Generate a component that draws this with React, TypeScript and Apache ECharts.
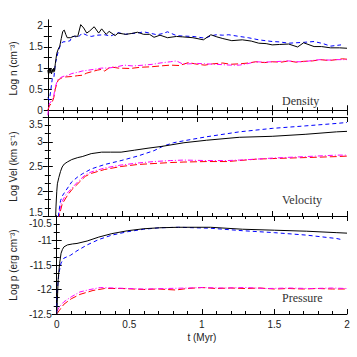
import React, { useEffect, useRef } from "react";
import * as echarts from "echarts";

type P = [number, number];

const xTicks = [0, 0.5, 1, 1.5, 2];
const densityLabels = [0, 0.5, 1, 1.5, 2];
const densityTicks = [0, 0.25, 0.5, 0.75, 1, 1.25, 1.5, 1.75, 2];
const panelNames = ["Density", "Velocity", "Pressure"];
const yNames = ["Log n (cm\u207B\u00B3)", "Log Vel (km s\u207B\u00B9)", "Log p (erg cm\u207B\u00B3)"];

const densityBlack: P[] = [[0,0.95],[0.005,0.85],[0.01,1.0],[0.015,0.88],[0.02,0.98],[0.025,0.86],[0.03,0.97],[0.035,0.9],[0.04,1.0],[0.045,0.92],[0.05,1.1],[0.06,1.35],[0.07,1.45],[0.08,1.52],[0.09,1.7],[0.1,1.87],[0.11,1.9],[0.12,1.8],[0.13,1.72],[0.15,1.72],[0.18,1.76],[0.2,1.75],[0.22,2.03],[0.24,1.95],[0.26,1.83],[0.28,1.88],[0.31,1.98],[0.34,1.83],[0.36,1.93],[0.39,1.8],[0.41,1.87],[0.45,1.77],[0.47,1.83],[0.52,1.8],[0.56,1.82],[0.6,1.85],[0.64,1.8],[0.68,1.8],[0.71,1.73],[0.75,1.78],[0.8,1.72],[0.86,1.75],[0.9,1.74],[0.97,1.72],[1.04,1.67],[1.09,1.79],[1.13,1.74],[1.17,1.7],[1.23,1.65],[1.3,1.67],[1.36,1.64],[1.41,1.59],[1.46,1.58],[1.5,1.55],[1.55,1.56],[1.61,1.57],[1.67,1.5],[1.71,1.6],[1.78,1.51],[1.83,1.51],[1.89,1.48],[1.95,1.48],[2.0,1.47]];
const densityBlue: P[] = [[0,0.3],[0.01,0.24],[0.02,0.47],[0.03,0.75],[0.04,0.75],[0.05,1.1],[0.06,1.25],[0.07,1.4],[0.085,1.55],[0.1,1.62],[0.13,1.63],[0.15,1.65],[0.16,1.75],[0.18,1.75],[0.2,1.72],[0.23,1.83],[0.26,1.78],[0.29,1.75],[0.33,1.78],[0.38,1.79],[0.42,1.76],[0.47,1.84],[0.52,1.8],[0.56,1.82],[0.6,1.83],[0.64,1.86],[0.68,1.83],[0.73,1.79],[0.77,1.82],[0.8,1.86],[0.86,1.77],[0.9,1.76],[0.97,1.75],[1.05,1.71],[1.09,1.76],[1.125,1.79],[1.17,1.78],[1.21,1.79],[1.28,1.75],[1.34,1.72],[1.41,1.67],[1.5,1.63],[1.55,1.62],[1.61,1.59],[1.66,1.6],[1.71,1.61],[1.78,1.63],[1.84,1.58],[1.89,1.52],[1.96,1.55]];
const densityRed: P[] = [[0,0.0],[0.01,0.1],[0.02,0.15],[0.03,0.2],[0.04,0.3],[0.05,0.5],[0.06,0.63],[0.07,0.72],[0.085,0.75],[0.1,0.78],[0.12,0.79],[0.16,0.8],[0.2,0.82],[0.23,0.83],[0.26,0.88],[0.29,0.91],[0.33,0.95],[0.36,0.97],[0.38,0.93],[0.42,1.03],[0.47,1.0],[0.55,0.99],[0.62,1.02],[0.69,1.03],[0.75,1.05],[0.82,1.07],[0.88,1.06],[0.94,1.13],[1.0,1.09],[1.05,1.07],[1.1,1.1],[1.17,1.12],[1.22,1.09],[1.28,1.1],[1.34,1.12],[1.39,1.15],[1.45,1.13],[1.5,1.15],[1.56,1.14],[1.61,1.17],[1.66,1.14],[1.71,1.16],[1.77,1.17],[1.82,1.2],[1.88,1.18],[1.93,1.2],[1.97,1.22],[2.0,1.21]];
const densityMagenta: P[] = [[0,-0.12],[0.005,0.05],[0.01,0.15],[0.02,0.2],[0.03,0.25],[0.04,0.35],[0.05,0.55],[0.06,0.66],[0.07,0.74],[0.085,0.77],[0.1,0.8],[0.13,0.82],[0.16,0.87],[0.2,0.9],[0.23,0.93],[0.27,0.95],[0.31,0.97],[0.36,1.0],[0.4,1.0],[0.45,1.02],[0.51,1.07],[0.57,1.05],[0.64,1.07],[0.7,1.09],[0.75,1.12],[0.82,1.15],[0.86,1.17],[0.9,1.1],[0.94,1.1],[1.0,1.11],[1.06,1.1],[1.12,1.09],[1.17,1.08],[1.22,1.07],[1.28,1.07],[1.33,1.1],[1.39,1.15],[1.45,1.14],[1.5,1.15],[1.56,1.16],[1.61,1.17],[1.66,1.15],[1.71,1.15],[1.77,1.18],[1.82,1.2],[1.88,1.19],[1.93,1.2],[2.0,1.2]];

const velocityBlack: P[] = [[0.05,1.3],[0.055,1.7],[0.06,2.0],[0.064,2.15],[0.074,2.28],[0.085,2.4],[0.096,2.49],[0.11,2.55],[0.13,2.59],[0.16,2.64],[0.2,2.68],[0.23,2.7],[0.29,2.76],[0.36,2.79],[0.42,2.79],[0.49,2.79],[0.58,2.83],[0.67,2.87],[0.77,2.91],[0.91,2.98],[1.06,3.03],[1.28,3.09],[1.5,3.11],[1.72,3.15],[1.93,3.2],[2.0,3.21]];
const velocityBlue: P[] = [[0.065,1.35],[0.075,1.6],[0.085,1.81],[0.1,1.92],[0.12,2.01],[0.16,2.19],[0.2,2.29],[0.23,2.35],[0.29,2.45],[0.38,2.54],[0.49,2.62],[0.6,2.71],[0.71,2.82],[0.77,2.91],[0.84,2.98],[0.91,3.02],[1.06,3.1],[1.28,3.2],[1.5,3.27],[1.72,3.32],[1.93,3.37],[2.0,3.39]];
const velocityRed: P[] = [[0.07,1.4],[0.08,1.55],[0.096,1.74],[0.13,1.91],[0.16,2.03],[0.21,2.18],[0.25,2.3],[0.29,2.36],[0.38,2.44],[0.49,2.5],[0.6,2.54],[0.71,2.56],[0.82,2.58],[0.91,2.59],[1.06,2.6],[1.2,2.6],[1.28,2.62],[1.4,2.65],[1.5,2.66],[1.72,2.68],[1.93,2.7],[2.0,2.71]];
const velocityMagenta: P[] = [[0.065,1.4],[0.075,1.55],[0.09,1.76],[0.12,1.93],[0.16,2.06],[0.2,2.19],[0.25,2.33],[0.29,2.39],[0.38,2.47],[0.49,2.53],[0.6,2.57],[0.71,2.6],[0.82,2.62],[0.91,2.63],[1.06,2.62],[1.2,2.62],[1.28,2.63],[1.4,2.65],[1.5,2.67],[1.72,2.7],[1.93,2.73],[2.0,2.73]];

const pressureBlack: P[] = [[0,-12.5],[0.005,-12.2],[0.01,-11.8],[0.02,-11.47],[0.03,-11.26],[0.04,-11.18],[0.05,-11.13],[0.074,-11.09],[0.11,-11.07],[0.14,-11.06],[0.21,-11.01],[0.29,-10.93],[0.38,-10.86],[0.49,-10.8],[0.6,-10.76],[0.71,-10.74],[0.84,-10.73],[1.06,-10.73],[1.28,-10.77],[1.5,-10.79],[1.72,-10.81],[1.93,-10.84],[2.0,-10.85]];
const pressureBlue: P[] = [[0,-12.5],[0.005,-12.0],[0.015,-11.67],[0.03,-11.46],[0.05,-11.36],[0.096,-11.3],[0.14,-11.21],[0.21,-11.09],[0.29,-10.98],[0.38,-10.89],[0.49,-10.82],[0.6,-10.77],[0.71,-10.74],[0.84,-10.73],[1.06,-10.75],[1.28,-10.8],[1.5,-10.84],[1.72,-10.89],[1.93,-10.96],[1.96,-10.98]];
const pressureRed: P[] = [[0,-12.5],[0.02,-12.42],[0.05,-12.3],[0.1,-12.19],[0.16,-12.1],[0.25,-12.02],[0.33,-11.98],[0.45,-11.98],[0.6,-12.0],[0.7,-11.99],[0.82,-12.01],[0.9,-11.98],[1.0,-11.96],[1.1,-11.98],[1.2,-11.97],[1.3,-11.98],[1.4,-11.97],[1.5,-11.99],[1.6,-11.98],[1.7,-11.99],[1.8,-11.98],[1.9,-11.99],[2.0,-11.99]];
const pressureMagenta: P[] = [[0,-12.45],[0.02,-12.35],[0.05,-12.25],[0.1,-12.15],[0.16,-12.05],[0.23,-12.0],[0.3,-11.96],[0.4,-11.97],[0.5,-11.98],[0.6,-11.99],[0.75,-11.98],[0.9,-11.97],[1.0,-11.96],[1.15,-11.97],[1.3,-11.96],[1.45,-11.98],[1.6,-11.97],[1.75,-11.98],[1.9,-11.97],[2.0,-11.98]];

const panels = [
  { min: -0.16, max: 2.14, red: densityRed, magenta: densityMagenta, blue: densityBlue, black: densityBlack },
  { min: 1.5, max: 3.5, red: velocityRed, magenta: velocityMagenta, blue: velocityBlue, black: velocityBlack },
  { min: -12.5, max: -10.5, red: pressureRed, magenta: pressureMagenta, blue: pressureBlue, black: pressureBlack },
];

const LEFT = 42;
const RIGHT = 10;
const tops = [20, 117, 216];
const heights = [97, 99, 98];

export default function App() {
  const ref = useRef<HTMLDivElement>(null);
  useEffect(() => {
    document.body.style.margin = "0";
    if (!ref.current) return;
    const chart = echarts.init(ref.current, undefined, { renderer: "svg" });
    const font = "Liberation Sans";
    const axisLine = { show: true, lineStyle: { color: "#000", width: 1 } };
    const grids = tops.map((t, i) => ({ left: LEFT, right: RIGHT, top: t, height: heights[i], containLabel: false }));
    const xAxes: any[] = [];
    const yAxes: any[] = [];
    [0, 1].forEach((side) => {
      panels.forEach((_, i) => {
        xAxes.push({
          type: "value", gridIndex: i, min: 0, max: 2, interval: 0.5,
          position: side === 0 ? "bottom" : "top",
          axisLine,
          axisTick: { show: true, inside: true, length: 5, lineStyle: { color: "#000" } },
          minorTick: { show: true, splitNumber: 5, length: 3, lineStyle: { color: "#000" } },
          splitLine: { show: false },
          axisLabel: {
            show: side === 0 && i === 2, fontSize: 10, color: "#222", fontFamily: font, margin: 5,
            customValues: xTicks,
          },
          name: side === 0 && i === 2 ? "t (Myr)" : "",
          nameLocation: "middle", nameGap: 18,
          nameTextStyle: { fontSize: 10, color: "#222", fontFamily: font },
        });
      });
    });
    [0, 1].forEach((side) => {
      panels.forEach((p, i) => {
        const base: any = {
          type: "value", gridIndex: i, min: p.min, max: p.max,
          position: side === 0 ? "left" : "right",
          axisLine,
          splitLine: { show: false },
          axisLabel: {
            show: side === 0, fontSize: 10, color: "#222", fontFamily: font, margin: 5,
            formatter: (v: number) => {
              if (i > 0 && v === p.max) return "{lo|" + v + "}";
              if (i === 1 && v === p.min) return "{hi|" + v + "}";
              return String(v);
            },
            rich: {
              lo: { fontSize: 10, color: "#222", fontFamily: font, padding: [14, 0, 0, 0] },
              hi: { fontSize: 10, color: "#222", fontFamily: font, padding: [0, 0, 8, 0] },
            },
          },
          name: side === 0 ? yNames[i] : "",
          nameLocation: "middle", nameRotate: 90, nameGap: i === 2 ? 30 : 21,
          nameTextStyle: { fontSize: 10, color: "#222", fontFamily: font },
        };
        if (i === 0) {
          base.axisLabel.customValues = densityLabels;
          base.axisTick = { show: true, inside: true, length: 4, customValues: densityTicks, lineStyle: { color: "#000" } };
        } else {
          base.interval = 0.5;
          base.axisTick = { show: true, inside: true, length: 5, lineStyle: { color: "#000" } };
          base.minorTick = { show: true, splitNumber: 3, length: 3, lineStyle: { color: "#000" } };
        }
        yAxes.push(base);
      });
    });
    const series: any[] = [];
    panels.forEach((p, i) => {
      const mk = (data: P[], color: string, type: any) => ({
        type: "line", xAxisIndex: i, yAxisIndex: i, data, showSymbol: false, symbol: "none",
        clip: true, lineStyle: { color, width: 1, type }, silent: true,
      });
      series.push(mk(p.red, "#ff0000", [7, 3]));
      series.push(mk(p.magenta, "#ff00ff", [5, 2, 1, 2]));
      series.push(mk(p.blue, "#0000ff", [4, 3]));
      series.push(mk(p.black, "#000000", "solid"));
    });
    const labelY = [102, 201, 299];
    chart.setOption({
      animation: false,
      grid: grids,
      xAxis: xAxes,
      yAxis: yAxes,
      series,
      graphic: panelNames.map((n, i) => ({
        type: "text", left: 282, top: labelY[i] - 7,
        style: { text: n, fontSize: 12, fontFamily: "Liberation Serif", fill: "#333" },
      })),
    });
    return () => chart.dispose();
  }, []);
  return <div ref={ref} style={{ width: 357, height: 357 }} />;
}
